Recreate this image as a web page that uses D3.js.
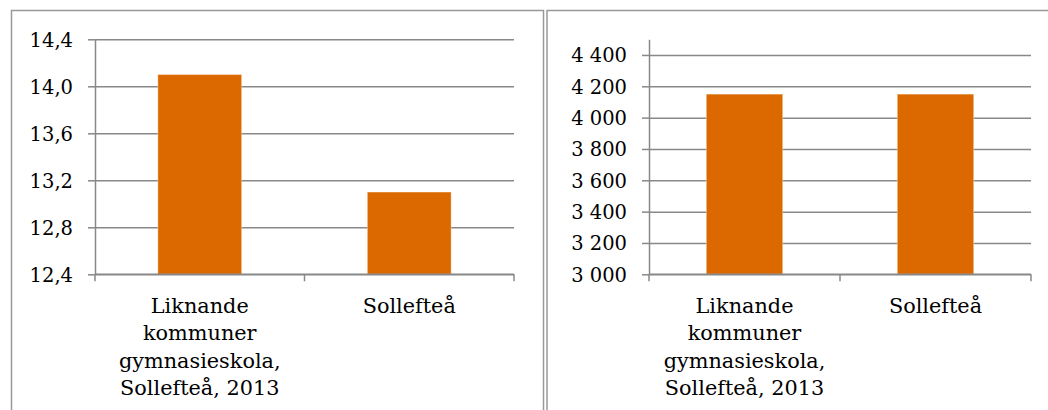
<!DOCTYPE html>
<html>
<head>
<meta charset="utf-8">
<script src="https://cdn.jsdelivr.net/npm/d3@7"></script>
<style>
  body { margin: 0; background: #fff; }
</style>
</head>
<body>
<svg id="chart" width="1048" height="410"></svg>
<script>
const categories = ['Liknande\nkommuner\ngymnasieskola,\nSollefteå, 2013', 'Sollefteå'];

const leftValues = [14.1, 13.1];
const leftDomain = [12.4, 14.4];
const leftTicks = [12.4, 12.8, 13.2, 13.6, 14.0, 14.4];

const rightValues = [4150, 4150];
const rightDomain = [3000, 4500];
const rightTicks = [3000, 3200, 3400, 3600, 3800, 4000, 4200, 4400];

const sv = d3.formatLocale({decimal: ',', thousands: '\u00a0', grouping: [3], currency: ['', ' kr']});

const FONT = "'DejaVu Serif', serif";
const GRID = '#888';
const BAR = '#dc6900';
const TOP = 39.3, BOTTOM = 274.3;

const svg = d3.select('#chart');

function styleText(sel, size) {
  sel.style('font-family', FONT).style('font-size', size + 'px').attr('fill', '#000');
}

function drawPanel(p) {
  // frame (bottom edge is below the picture)
  svg.append('rect')
    .attr('x', p.frameX).attr('y', 10.5)
    .attr('width', p.frameW).attr('height', 600)
    .attr('fill', 'none').attr('stroke', '#999').attr('stroke-width', 1.5);

  const y = d3.scaleLinear().domain(p.domain).range([BOTTOM, TOP]);
  const x = d3.scaleBand().domain(categories)
    .range([p.left, p.right]).paddingInner(0.6).paddingOuter(0.3);
  const w = p.right - p.left;

  // gridlines
  svg.append('g')
    .attr('transform', `translate(${p.left},0)`)
    .call(d3.axisLeft(y).tickValues(p.ticks).tickSize(-w).tickFormat(''))
    .call(g => g.select('.domain').remove())
    .call(g => g.selectAll('.tick line').attr('stroke', GRID).attr('stroke-width', 1.5));

  svg.append('g').selectAll('rect').data(p.values).enter()
    .append('rect')
    .attr('x', (d, i) => x(categories[i]))
    .attr('y', d => y(d))
    .attr('width', x.bandwidth())
    .attr('height', d => y(p.domain[0]) - y(d))
    .attr('fill', BAR)
    .attr('stroke', 'rgba(255,255,255,0.35)').attr('stroke-width', 1);

  // y axis with outward ticks and labels
  svg.append('g')
    .attr('transform', `translate(${p.left},0)`)
    .call(d3.axisLeft(y).tickValues(p.ticks).tickSize(7).tickSizeOuter(0).tickPadding(15)
      .tickFormat(sv.format(p.format)))
    .attr('font-family', null).attr('font-size', null)
    .call(g => g.select('.domain').attr('stroke', GRID).attr('stroke-width', 1.5))
    .call(g => g.selectAll('.tick line').attr('stroke', GRID).attr('stroke-width', 1.5))
    .call(g => g.selectAll('.tick text').attr('dy', null).attr('y', 7).call(styleText, 19.5));

  // x axis line + boundary ticks
  const bounds = d3.range(categories.length + 1).map(i => p.left + i * x.step());
  const xa = svg.append('g');
  xa.append('line')
    .attr('x1', p.left).attr('x2', p.right).attr('y1', BOTTOM).attr('y2', BOTTOM)
    .attr('stroke', GRID).attr('stroke-width', 1.5);
  xa.selectAll('line.b').data(bounds).enter().append('line')
    .attr('class', 'b')
    .attr('x1', d => d).attr('x2', d => d).attr('y1', BOTTOM).attr('y2', BOTTOM + 7)
    .attr('stroke', GRID).attr('stroke-width', 1.5);

  // category labels
  const lab = xa.selectAll('text').data(categories).enter().append('text')
    .attr('text-anchor', 'middle')
    .attr('x', d => x(d) + x.bandwidth() / 2)
    .attr('y', 313)
    .call(styleText, 20.8);
  lab.selectAll('tspan').data(d => d.split('\n')).enter().append('tspan')
    .attr('x', function() { return this.parentNode.getAttribute('x'); })
    .attr('dy', (d, i) => i ? 27.3 : 0)
    .text(d => d);
}

drawPanel({frameX: 11.5, frameW: 532, left: 95, right: 514,
  values: leftValues, domain: leftDomain, ticks: leftTicks, format: '.1f'});
drawPanel({frameX: 547, frameW: 600, left: 649, right: 1031,
  values: rightValues, domain: rightDomain, ticks: rightTicks, format: ',d'});
</script>
</body>
</html>
